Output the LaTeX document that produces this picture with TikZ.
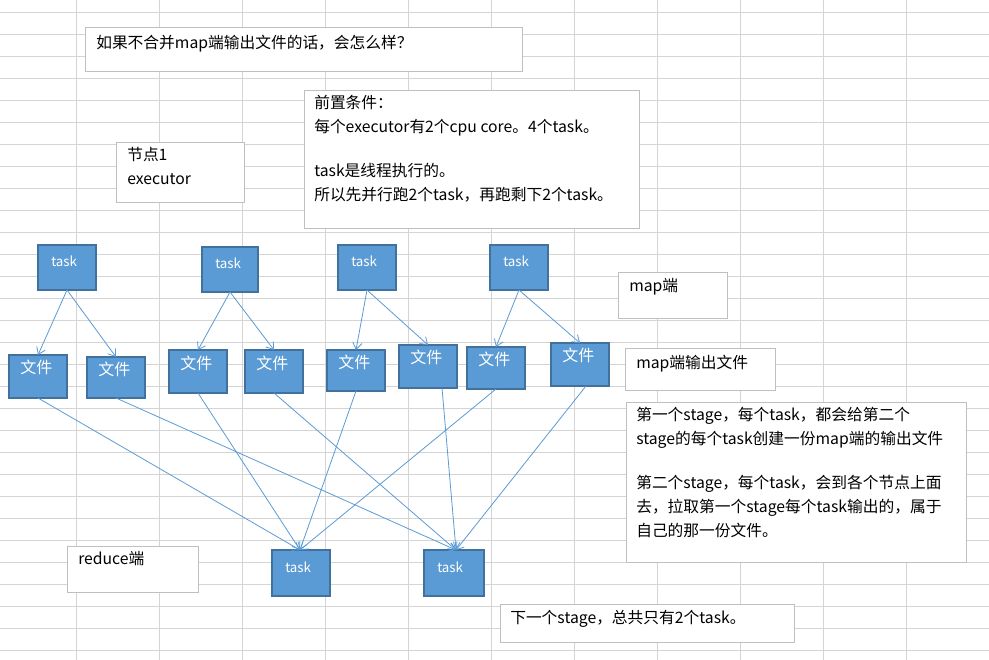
\documentclass[tikz,border=0pt]{standalone}
\usepackage{fontspec}
\setmainfont{Noto Sans CJK SC}
\usetikzlibrary{arrows.meta}
\definecolor{tb}{HTML}{5B9BD5}
\definecolor{tbd}{HTML}{41719C}
\definecolor{grid}{HTML}{D4D4D4}
\definecolor{bd}{HTML}{BFBFBF}
\begin{document}
\begin{tikzpicture}[x=0.75pt,y=-0.75pt,
  blue/.style={draw=tbd,fill=tb,line width=0.8pt},
  tnote/.style={draw=bd,fill=white,line width=0.7pt},
  txt/.style={anchor=north west,inner sep=0pt,font=\fontsize{11.8}{18}\selectfont,align=left},
  btxt/.style={anchor=north west,inner sep=0pt,font=\fontsize{10}{12}\selectfont,text=white},
  arr/.style={draw=tb,line width=0.6pt,-{Straight Barb[length=5pt,width=7pt]}}]
\useasboundingbox (0,0) rectangle (989,660);
\fill[white] (0,0) rectangle (989,660);
\foreach \x in {76,159,...,989} \draw[grid,line width=0.6pt] (\x,0) -- (\x,660);
\foreach \y in {12,34,...,660} \draw[grid,line width=0.6pt] (0,\y) -- (989,\y);
% notes
\draw[tnote] (85,27) rectangle (522,71);
\node[txt] (title) at (96,35) {如果不合并map端输出文件的话，会怎么样？};
\draw[tnote] (304,90) rectangle (639,228);
\node[txt] (pre) at (314,95) {前置条件：\\每个executor有2个cpu core。4个task。\\[15pt]task是线程执行的。\\所以先并行跑2个task，再跑剩下2个task。};
\draw[tnote] (116,142) rectangle (244,202);
\node[txt] (node1) at (127,147) {节点1\\executor};
\draw[tnote] (618,272) rectangle (727,318);
\node[txt] (mapend) at (629,278) {map端};
\draw[tnote] (625,348) rectangle (775,390);
\node[txt] (mapout) at (636,355) {map端输出文件};
\draw[tnote] (626,402) rectangle (966,562);
\node[txt] (big) at (636,407) {第一个stage，每个task，都会给第二个\\stage的每个task创建一份map端的输出文件\\[15pt]第二个stage，每个task，会到各个节点上面\\去，拉取第一个stage每个task输出的，属于\\自己的那一份文件。};
\draw[tnote] (67,546) rectangle (198,592);
\node[txt] (redend) at (78,551) {reduce端};
\draw[tnote] (500,604) rectangle (794,642);
\node[txt] (next) at (510,610) {下一个stage，总共只有2个task。};
% tasks
\foreach \n/\a/\b/\c/\d in {t1/38/245/96/290, t2/202/247/258/292, t3/338/245/396/290, t4/490/245/548/290,
  f1/9/355/67/398, f2/87/357/145/398, f3/169/350/227/393, f4/245/350/303/393,
  f5/327/350/385/391, f6/399/345/457/388, f7/467/347/525/389, f8/551/343/609/386,
  r1/272/550/330/596, r2/424/550/484/596}
  \path[blue] (\a,\b) rectangle (\c,\d) coordinate[midway] (\n);
\foreach \n/\a/\b in {t1/51/256, t2/215/258, t3/351/256, t4/503/256, r1/285/562, r2/437/562}
  \node[btxt] (l\n) at (\a,\b) {task};
\foreach \n/\a/\b in {f1/20/360, f2/98/362, f3/180/356, f4/256/356, f5/338/355, f6/410/350, f7/478/352, f8/562/348}
  \node[btxt,font=\fontsize{12}{13}\selectfont] (l\n) at (\a,\b) {文件};
\coordinate (t1b) at (67,290); \coordinate (t2b) at (230,292); \coordinate (t3b) at (367,290); \coordinate (t4b) at (519,290);
\draw[arr] (t1b) -- (38,355); \draw[arr] (t1b) -- (116,357);
\draw[arr] (t2b) -- (198,350); \draw[arr] (t2b) -- (274,350);
\draw[arr] (t3b) -- (356,350); \draw[arr] (t3b) -- (428,345);
\draw[arr] (t4b) -- (496,347); \draw[arr] (t4b) -- (580,343);
\coordinate (r1t) at (300,550); \coordinate (r2t) at (456,550);
\draw[arr] (38,398) -- (r1t); \draw[arr] (116,398) -- (r2t);
\draw[arr] (198,393) -- (r1t); \draw[arr] (274,393) -- (r2t);
\draw[arr] (356,391) -- (r1t); \draw[arr] (442,388) -- (r2t);
\draw[arr] (496,389) -- (r1t); \draw[arr] (586,386) -- (r2t);
\end{tikzpicture}
\end{document}
